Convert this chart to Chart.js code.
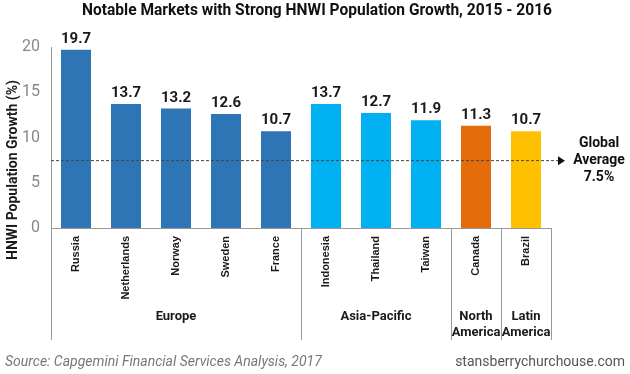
<!DOCTYPE html>
<html><head><meta charset="utf-8">
<script src="https://cdn.jsdelivr.net/npm/chart.js@4/dist/chart.umd.min.js"></script>
<style>html,body{margin:0;padding:0;background:#fff}#wrap{width:630px;height:374px;position:relative}</style>
</head><body><div id="wrap"><canvas id="c" width="630" height="374"></canvas></div>
<script>
const categories = ["Russia","Netherlands","Norway","Sweden","France","Indonesia","Thailand","Taiwan","Canada","Brazil"];
const growth = [19.7,13.7,13.2,12.6,10.7,13.7,12.7,11.9,11.3,10.7];
const regions = ["Europe","Europe","Europe","Europe","Europe","Asia-Pacific","Asia-Pacific","Asia-Pacific","North America","Latin America"];
const regionLabels = {"Europe":["Europe"],"Asia-Pacific":["Asia-Pacific"],"North America":["North","America"],"Latin America":["Latin","America"]};
const regionColors = {"Europe":"#2E75B6","Asia-Pacific":"#00B0F0","North America":"#E46C0A","Latin America":"#FFC000"};
const globalAverage = 7.5;
const yTicks = [0,5,10,15,20];
const titleText = "Notable Markets with Strong HNWI Population Growth, 2015 - 2016";
const yTitle = "HNWI Population Growth (%)";
const sourceText = "Source: Capgemini Financial Services Analysis, 2017";
const siteText = "stansberrychurchouse.com";

const F = "Roboto, 'Liberation Sans', Arial, sans-serif";
const FA = "'Liberation Sans', Arial, sans-serif";

function fitText(ctx, txt, x, y, maxW){
  const w = ctx.measureText(txt).width;
  if (w > maxW){
    ctx.save(); ctx.translate(x,y); ctx.scale(maxW/w,1); ctx.fillText(txt,0,0); ctx.restore();
  } else ctx.fillText(txt,x,y);
}

const deco = {
  id:'deco',
  afterDatasetsDraw(chart){
    const ctx = chart.ctx, xs = chart.scales.x, ys = chart.scales.y, ca = chart.chartArea;
    ctx.save();
    // data labels
    ctx.fillStyle = '#1a1a1a';
    ctx.font = 'bold 15px ' + F;
    ctx.textAlign = 'center'; ctx.textBaseline = 'alphabetic';
    const meta = chart.getDatasetMeta(0);
    meta.data.forEach((b,i)=>{ ctx.fillText(growth[i].toFixed(1), b.x, b.y - 7); });
    // average line
    const ay = ys.getPixelForValue(globalAverage);
    ctx.strokeStyle = '#444'; ctx.lineWidth = 1; ctx.setLineDash([3,2]);
    ctx.beginPath(); ctx.moveTo(ca.left, ay+0.5); ctx.lineTo(ca.right+7, ay+0.5); ctx.stroke();
    ctx.setLineDash([]);
    ctx.fillStyle = '#111';
    ctx.beginPath(); ctx.moveTo(ca.right+7, ay-4); ctx.lineTo(ca.right+14, ay+0.5); ctx.lineTo(ca.right+7, ay+5); ctx.closePath(); ctx.fill();
    ctx.font = 'bold 14px ' + F; ctx.textAlign='center'; ctx.textBaseline='middle';
    ctx.fillText('Global', 599, ay-17); ctx.fillText('Average', 599, ay); ctx.fillText(globalAverage.toFixed(1)+'%', 599, ay+17);
    // group dividers
    ctx.strokeStyle = '#999'; ctx.lineWidth = 1;
    const half = (xs.getPixelForValue(1)-xs.getPixelForValue(0))/2;
    const bounds = [0];
    for (let i=1;i<regions.length;i++) if (regions[i]!==regions[i-1]) bounds.push(i);
    bounds.push(regions.length);
    bounds.forEach(bi=>{
      const x = Math.round(bi<regions.length ? xs.getPixelForValue(bi)-half : xs.getPixelForValue(bi-1)+half)+0.5;
      ctx.beginPath(); ctx.moveTo(x, ca.bottom); ctx.lineTo(x, 340); ctx.stroke();
    });
    ctx.fillStyle = '#1a1a1a'; ctx.font = 'bold 13px ' + F;
    for (let k=0;k<bounds.length-1;k++){
      const a = bounds[k], z = bounds[k+1]-1;
      const cx = (xs.getPixelForValue(a)+xs.getPixelForValue(z))/2;
      const lines = regionLabels[regions[a]];
      lines.forEach((l,j)=>ctx.fillText(l, cx, 317 + j*16));
    }
    // y title
    ctx.save(); ctx.translate(13, 170); ctx.rotate(-Math.PI/2);
    ctx.font = 'bold 14px ' + F; ctx.fillStyle='#1a1a1a'; ctx.textAlign='center'; ctx.textBaseline='middle';
    fitText(ctx, yTitle, 0, 0, 186);
    ctx.restore();
    // title
    ctx.font = 'bold 17px ' + F; ctx.textAlign='left'; ctx.textBaseline='middle'; ctx.fillStyle='#111';
    fitText(ctx, titleText, 82, 11, 470);
    // footer
    ctx.font = 'italic 14px ' + F; ctx.fillStyle = '#777'; ctx.textAlign='left';
    fitText(ctx, sourceText, 5, 362, 336);
    ctx.font = '14px ' + F; ctx.fillStyle = '#555'; ctx.textAlign='right';
    ctx.fillText(siteText, 625, 362);
    ctx.restore();
  }
};

new Chart(document.getElementById('c'), {
  type:'bar',
  data:{labels:categories, datasets:[{data:growth, backgroundColor:regions.map(r=>regionColors[r]), borderWidth:0, barPercentage:0.6, categoryPercentage:1}]},
  options:{
    responsive:false, animation:false, devicePixelRatio:1,
    layout:{padding:{left:0,right:79,top:47,bottom:0}},
    plugins:{legend:{display:false}, tooltip:{enabled:false}, title:{display:false}},
    scales:{
      x:{
        grid:{display:false, drawTicks:false},
        border:{display:true, color:'#999'},
        ticks:{minRotation:90, maxRotation:90, autoSkip:false, padding:8, color:'#1a1a1a', font:{family:FA, size:11, weight:'bold'}},
        afterFit(s){ s.height = 146; }
      },
      y:{
        min:0, max:20,
        afterBuildTicks(s){ s.ticks = yTicks.map(v=>({value:v})); },
        grid:{display:false, drawTicks:false},
        border:{display:true, color:'#999'},
        ticks:{padding:11, color:'#888', font:{family:F, size:16}},
        afterFit(s){ s.width = 51; }
      }
    }
  },
  plugins:[deco]
});
</script></body></html>
